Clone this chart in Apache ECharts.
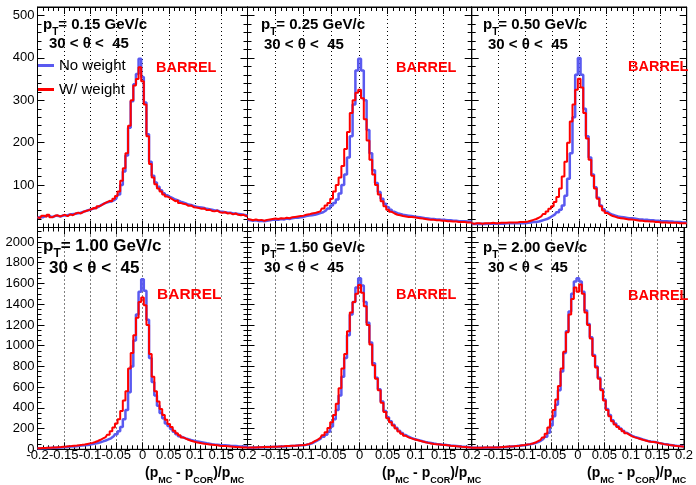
<!DOCTYPE html>
<html><head><meta charset="utf-8">
<script src="https://cdn.jsdelivr.net/npm/echarts@6/dist/echarts.min.js"></script>
<style>html,body{margin:0;padding:0;background:#fff}#c{width:696px;height:485px}</style>
</head><body><div id="c"></div>
<script>
// bin centres of (p_MC - p_COR)/p_MC
const binCenters = [-0.2,-0.195,-0.19,-0.185,-0.18,-0.175,-0.17,-0.165,-0.16,-0.155,
 -0.15,-0.145,-0.14,-0.135,-0.13,-0.125,-0.12,-0.115,-0.11,-0.105,
 -0.1,-0.095,-0.09,-0.085,-0.08,-0.075,-0.07,-0.065,-0.06,-0.055,
 -0.05,-0.045,-0.04,-0.035,-0.03,-0.025,-0.02,-0.015,-0.01,-0.005,
 0,0.005,0.01,0.015,0.02,0.025,0.03,0.035,0.04,0.045,
 0.05,0.055,0.06,0.065,0.07,0.075,0.08,0.085,0.09,0.095,
 0.1,0.105,0.11,0.115,0.12,0.125,0.13,0.135,0.14,0.145,
 0.15,0.155,0.16,0.165,0.17,0.175,0.18,0.185,0.19,0.195,0.2];

const ptLabels = ['0.15','0.25','0.50','1.00','1.50','2.00'];
const thetaLabel = '30 < θ <  45';
const seriesNames = ['No weight','W/ weight'];

// pT = 0.15
const noW_015 = [22,25,24,27,28,26,25,28,27,26, 29,28,30,31,32,33,34,36,38,40, 42,44,46,48,52,55,58,60,61,64,
 68,78,100,132,170,235,298,338,362,398, 355,295,220,155,122,106,96,88,81,76, 72,69,66,64,61,59,57,54,53,51,
 49,48,47,46,44,43,42,40,40,38, 37,36,35,35,33,33,32,31,30,29, 28];
const wW_015 = [24,22,28,25,30,24,27,29,26,28, 30,27,31,29,33,35,33,37,39,41, 43,46,45,50,53,57,60,63,62,68,
 74,85,110,140,175,240,300,335,350,378, 345,290,215,150,118,102,92,85,78,73, 70,66,62,64,58,56,55,51,52,48,
 47,46,44,45,41,42,39,38,40,36, 35,36,33,34,31,33,30,29,30,27, 26];
// pT = 0.25
const noW_025 = [18,17,16,17,15,16,15,16,17,18, 19,18,20,19,21,20,22,23,23,24, 25,27,28,29,30,32,34,36,40,45,
 52,58,66,80,100,125,165,215,290,370, 398,370,300,230,175,135,105,84,68,56, 48,42,37,34,32,30,29,28,27,26,
 25,24,23,22,21,20,20,19,19,18, 18,17,17,16,16,15,15,15,14,14, 14];
const wW_025 = [20,19,17,19,17,18,16,18,19,20, 21,20,22,21,23,22,24,25,26,27, 28,30,31,33,34,36,38,45,52,58,
 68,85,100,118,145,185,225,270,300,318, 325,305,255,205,160,125,100,78,62,50, 42,37,33,30,29,27,26,25,25,24,
 23,22,21,20,19,18,18,17,17,16, 16,15,15,14,14,13,13,13,12,12, 12];
// pT = 0.50
const noW_050 = [8,8,9,8,9,8,9,9,9,9, 9,9,9,10,10,10,10,10,10,10, 10,11,12,13,13,14,16,18,20,23,
 27,31,36,42,52,75,115,175,260,360, 400,360,280,215,165,125,95,70,52,43, 37,33,30,28,26,25,24,23,22,22,
 21,20,19,19,18,18,17,17,16,16, 15,15,15,14,14,13,13,13,12,12, 12];
const wW_050 = [10,9,10,10,9,10,10,10,11,10, 10,11,11,11,12,12,12,12,13,13, 13,14,16,18,20,23,27,32,38,44,
 50,60,72,92,120,155,200,250,290,325, 351,330,270,210,160,122,92,68,50,40, 34,30,27,25,23,22,21,20,19,19,
 18,17,16,16,15,15,14,14,13,13, 12,12,12,11,11,11,11,10,10,10, 10];
// pT = 1.00
const noW_100 = [8,9,10,11,12,13,14,15,16,18, 20,22,24,26,28,30,33,36,39,42, 45,50,55,61,68,76,85,95,106,125,
 145,175,215,290,380,550,800,1050,1300,1520, 1640,1530,1250,880,650,520,420,350,300,250, 225,195,170,145,125,115,105,97,90,84,
 78,73,68,63,58,54,50,47,45,42, 40,38,36,34,33,31,29,28,27,26, 25];
const wW_100 = [10,11,12,13,14,15,17,18,20,22, 25,27,30,32,35,37,40,43,47,52, 57,62,70,80,92,105,118,140,175,210,
 250,290,370,470,560,780,930,1100,1270,1420, 1465,1390,1200,920,700,560,460,390,330,285, 245,215,180,155,135,115,103,92,83,75,
 68,63,58,54,50,47,44,41,38,35, 33,31,29,27,25,23,21,20,18,17, 16];
// pT = 1.50
const noW_150 = [15,16,17,17,18,19,20,21,22,23, 24,25,27,28,30,31,33,34,36,38, 40,43,49,58,72,86,100,120,140,170,
 220,290,380,520,700,880,1100,1300,1420,1560, 1650,1580,1420,1220,1030,830,690,580,460,370, 310,270,238,208,180,157,137,121,110,100,
 93,86,78,71,65,60,55,51,48,45, 43,40,37,35,32,29,26,24,22,20, 18];
const wW_150 = [16,17,18,18,19,20,21,22,23,24, 25,26,28,29,31,32,34,35,37,39, 41,45,52,62,78,92,110,135,165,205,
 260,330,440,590,780,920,1140,1320,1420,1500, 1585,1510,1380,1200,1010,810,680,570,450,360, 300,260,230,200,172,150,130,115,105,96,
 90,82,75,68,62,57,52,49,46,43, 41,38,35,33,30,27,24,22,20,18, 16];
// pT = 2.00
const noW_200 = [14,14,15,15,15,16,16,16,16,17, 17,19,21,23,25,27,29,31,34,37, 40,44,48,53,60,70,82,100,120,160,
 230,320,430,570,750,930,1140,1330,1500,1620, 1650,1620,1520,1340,1210,1080,910,800,690,580, 480,390,330,280,248,222,200,180,160,145,
 130,120,112,104,96,88,81,76,72,69, 62,57,52,48,43,40,36,33,31,29, 27];
const wW_200 = [16,16,16,16,16,17,17,17,17,18, 18,20,22,24,26,28,30,33,35,38, 41,46,50,56,65,78,92,115,150,210,
 290,380,480,610,780,940,1130,1300,1450,1560, 1520,1590,1500,1320,1200,1070,900,790,680,570, 470,380,320,270,240,215,195,175,155,140,
 125,115,108,100,92,85,78,73,70,67, 60,55,50,46,41,38,34,31,29,27, 25];

const noWeight = [noW_015, noW_025, noW_050, noW_100, noW_150, noW_200];
const withWeight = [wW_015, wW_025, wW_050, wW_100, wW_150, wW_200];

const FONT = '"Liberation Sans", Arial, Helvetica, sans-serif';
const BLUE = '#5a5af0', RED = '#ff0000';

const colL = [37.5, 247.5, 471.7], colW = [210, 224.2, 215];
const rowT = [7, 227.5], rowH = [220.5, 221.8];
const yMax = [520, 2140], yInt = [100, 200], yMinorSplit = [5, 4];

const fmtX = v => String(Math.round(v * 1000) / 1000);
const fmtY = v => String(v);
const blk = '#000';

const grid = [], xAxis = [], yAxis = [], series = [];
for (let g = 0; g < 6; g++) {
  const r = Math.floor(g / 3), c = g % 3;
  grid.push({ left: colL[c], top: rowT[r], width: colW[c], height: rowH[r], show: true,
    borderColor: blk, borderWidth: 1, backgroundColor: 'transparent' });
  const tickCommon = {
    axisLine: { show: true, onZero: false, lineStyle: { color: blk, width: 1 } },
    axisTick: { show: true, inside: true, length: 7, lineStyle: { color: blk, width: 1 } },
  };
  xAxis.push(Object.assign({ type: 'value', gridIndex: g, min: -0.2, max: 0.2, interval: 0.05, position: 'bottom',
    minorTick: { show: true, splitNumber: 5, length: 4, lineStyle: { color: blk } },
    splitLine: { show: true, lineStyle: { color: blk, width: 1, type: [1, 3] } },
    axisLabel: { show: r === 1, showMinLabel: c === 0, showMaxLabel: true, hideOverlap: false, margin: 0, fontSize: 13,
      color: blk, fontFamily: FONT, formatter: fmtX } }, tickCommon));
  xAxis.push(Object.assign({ type: 'value', gridIndex: g, min: -0.2, max: 0.2, interval: 0.05, position: 'top',
    minorTick: { show: true, splitNumber: 5, length: 4, lineStyle: { color: blk } },
    splitLine: { show: false }, axisLabel: { show: false } }, tickCommon));
  yAxis.push(Object.assign({ type: 'value', gridIndex: g, min: 0, max: yMax[r], interval: yInt[r], position: 'left',
    minorTick: { show: true, splitNumber: yMinorSplit[r], length: 4, lineStyle: { color: blk } },
    splitLine: { show: false },
    axisLabel: { show: c === 0, showMaxLabel: false, showMinLabel: r === 1, margin: 3, fontSize: 13,
      color: blk, fontFamily: FONT, formatter: fmtY } }, tickCommon));
  yAxis.push(Object.assign({ type: 'value', gridIndex: g, min: 0, max: yMax[r], interval: yInt[r], position: 'right',
    minorTick: { show: true, splitNumber: yMinorSplit[r], length: 4, lineStyle: { color: blk } },
    splitLine: { show: false }, axisLabel: { show: false } }, tickCommon));

  const mk = (name, vals, color, w, z) => ({
    type: 'line', name, xAxisIndex: 2 * g, yAxisIndex: 2 * g, step: 'middle', showSymbol: false, symbol: 'none',
    data: binCenters.map((x, i) => [x, vals[i]]), lineStyle: { color, width: w }, itemStyle: { color },
    z, clip: true, animation: false
  });
  series.push(mk(seriesNames[0], noWeight[g], BLUE, 2.5, 2));
  series.push(mk(seriesNames[1], withWeight[g], RED, 2, 3));
}

// panel annotations
const ptPos = [[43, 25], [261, 25], [483, 25], [43, 246], [261, 248], [483, 248]];
const thPos = [[49, 44], [264, 45], [488, 45], [49, 268], [264, 268], [488, 268]];
const barPos = [[156, 68], [396, 68], [628, 67], [157, 295], [396, 295], [628, 296]];
const fs = [15, 15, 15, 17, 15, 15];
const graphic = [];
const midStyle = { verticalAlign: 'middle', textVerticalAlign: 'middle', align: 'left', textAlign: 'left' };
for (let g = 0; g < 6; g++) {
  const f = fs[g];
  graphic.push({ type: 'text', z: 10, style: Object.assign({ x: ptPos[g][0], y: ptPos[g][1],
    text: '{p|p}{t|T}{n|= ' + ptLabels[g] + ' GeV/c}',
    rich: {
      p: { fontSize: f, fontWeight: 'bold', fontFamily: FONT, fill: blk },
      t: { fontSize: Math.round(f * 0.68), fontWeight: 'bold', fontFamily: FONT, padding: [Math.round(f * 0.95), 0, 0, 0], fill: blk },
      n: { fontSize: f, fontWeight: 'bold', fontFamily: FONT, fill: blk }
    } }, midStyle) });
  graphic.push({ type: 'text', z: 10, style: Object.assign({ x: thPos[g][0], y: thPos[g][1],
    text: thetaLabel, font: 'bold ' + f + 'px ' + FONT, fill: blk }, midStyle) });
  graphic.push({ type: 'text', z: 10, style: Object.assign({ x: barPos[g][0], y: barPos[g][1],
    text: 'BARREL', font: 'bold ' + (g === 3 ? 15.5 : 14.5) + 'px ' + FONT, fill: RED }, midStyle) });
}
const titleX = [145, 382, 587];
for (let c = 0; c < 3; c++) {
  graphic.push({ type: 'text', z: 10, style: Object.assign({ x: titleX[c], y: 473,
    text: '{n|(p}{s|MC}{n| - p}{s|COR}{n|)/p}{s|MC}',
    rich: {
      n: { fontSize: 14, fontWeight: 'bold', fontFamily: FONT, fill: blk },
      s: { fontSize: 9, fontWeight: 'bold', fontFamily: FONT, padding: [16, 0, 0, 0], fill: blk }
    } }, midStyle) });
}

const chart = echarts.init(document.getElementById('c'), null, { renderer: 'canvas' });
chart.setOption({
  backgroundColor: '#fff', animation: false,
  grid, xAxis, yAxis, series, graphic,
  legend: { data: seriesNames, orient: 'vertical', left: 38, top: 58, padding: 0, icon: 'rect',
    itemWidth: 16, itemHeight: 3, itemGap: 9,
    textStyle: { fontSize: 15, fontFamily: FONT, color: blk }, selectedMode: false }
});
</script></body></html>
